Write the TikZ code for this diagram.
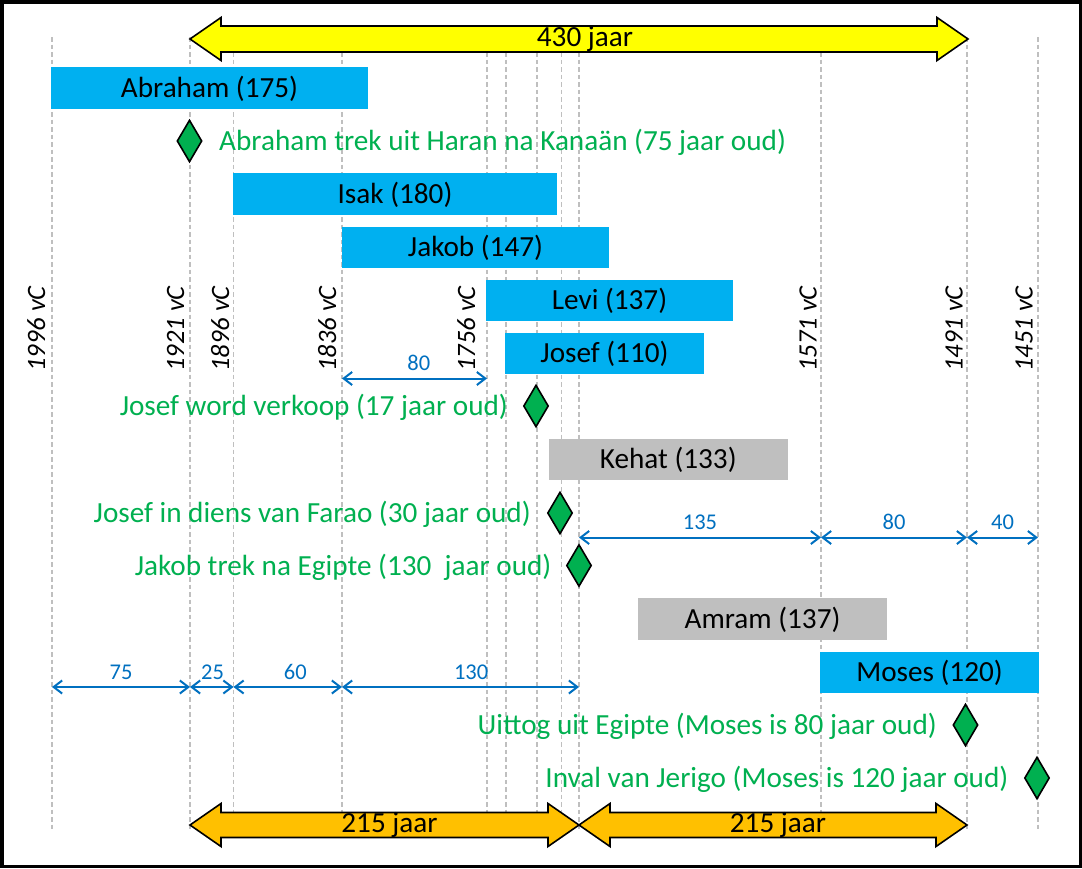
\documentclass[tikz,border=0pt]{standalone}
\usepackage{fontspec}
\setmainfont{Carlito}
\usetikzlibrary{arrows.meta,shapes.geometric}
\definecolor{barblue}{HTML}{00B0F0}
\definecolor{bargrey}{HTML}{BFBFBF}
\definecolor{evgreen}{HTML}{00B050}
\definecolor{dimblue}{HTML}{0070C0}
\definecolor{lineg}{HTML}{BFBFBF}
\definecolor{arryellow}{HTML}{FFFF00}
\definecolor{arrorange}{HTML}{FFC000}
\newcommand\fbig{\fontsize{29.2}{32}\selectfont}
\newcommand\fyr{\fontsize{26.5}{29}\selectfont\itshape}
\newcommand\fdm{\fontsize{22.5}{25}\selectfont}
\tikzset{
  vline/.style={draw=lineg, line width=1.3pt, dash pattern=on 4.5pt off 3pt},
  bar/.style={rectangle, fill=barblue, inner sep=0pt, minimum height=41.5pt, text height=18.5pt, text depth=0pt, font=\fbig, text=black},
  greybar/.style={bar, fill=bargrey},
  evt/.style={diamond, draw=black, fill=evgreen, line width=1.6pt, inner sep=0pt, minimum width=25pt, minimum height=42pt},
  evtlbl/.style={inner sep=0pt, font=\fbig, text=evgreen},
  yearlbl/.style={rotate=90, inner sep=0pt, font=\fyr, anchor=base east},
  dimarr/.style={draw=dimblue, line width=2pt, {Straight Barb[length=8.5pt,width=13pt]}-{Straight Barb[length=8.5pt,width=13pt]}},
  dimlbl/.style={above=6.5pt, inner sep=0pt, font=\fdm, text=dimblue},
  bigarrow/.style={draw=black, line width=1.6pt, line join=miter},
  arrlbl/.style={inner sep=0pt, font=\fbig, text=black}
}
\begin{document}
\begin{tikzpicture}[x=1pt, y=-1pt]
\useasboundingbox (0,0) rectangle (1082,868);
\fill[white] (0,0) rectangle (1082,868);
\draw[line width=3.5pt] (1.75,1.75) rectangle (1080.25,866.25);

% vertical dashed year lines
\foreach \n/\x in {a/52, b/190, c/233.5, d/342, e/487, f/506, g/537, h/561.5, i/579, j/821, k/967, l/1038} {
  \coordinate (top\n) at (\x,37);
  \coordinate (bot\n) at (\x,830);
  \draw[vline] (top\n) -- (bot\n);
}

% year labels
\node[yearlbl] (y1996) at (45,286) {1996 vC};
\node[yearlbl] (y1921) at (184,286) {1921 vC};
\node[yearlbl] (y1896) at (229,286) {1896 vC};
\node[yearlbl] (y1836) at (336,286) {1836 vC};
\node[yearlbl] (y1756) at (475,286) {1756 vC};
\node[yearlbl] (y1571) at (816.5,286) {1571 vC};
\node[yearlbl] (y1491) at (962.5,286) {1491 vC};
\node[yearlbl] (y1451) at (1032.5,286) {1451 vC};

% big arrows
\draw[bigarrow, fill=arryellow] (190,39) -- (221,17.5) -- (221,26) -- (937,26) -- (937,17.5) -- (968,39) -- (937,60.5) -- (937,52) -- (221,52) -- (221,60.5) -- cycle;
\node[arrlbl] (a430) at (585,39) {430 jaar};
\draw[bigarrow, fill=arrorange] (190,825) -- (221,803.5) -- (221,812.5) -- (548,812.5) -- (548,803.5) -- (579,825) -- (548,846.5) -- (548,837.5) -- (221,837.5) -- (221,846.5) -- cycle;
\node[arrlbl] (a215l) at (389.5,825) {215 jaar};
\draw[bigarrow, fill=arrorange] (579,825) -- (610,803.5) -- (610,812.5) -- (936,812.5) -- (936,803.5) -- (967,825) -- (936,846.5) -- (936,837.5) -- (610,837.5) -- (610,846.5) -- cycle;
\node[arrlbl] (a215r) at (778,825) {215 jaar};

% life bars
\node[bar, minimum width=317pt] (abraham) at (209.5,87.75) {Abraham (175)};
\node[bar, minimum width=324pt] (isak) at (395,193.75) {Isak (180)};
\node[bar, minimum width=267pt] (jakob) at (475.5,247.25) {Jakob (147)};
\node[bar, minimum width=247pt] (levi) at (609.5,300.25) {Levi (137)};
\node[bar, minimum width=199pt] (josef) at (604.5,353.25) {Josef (110)};
\node[greybar, minimum width=239.5pt] (kehat) at (668.25,459.25) {Kehat (133)};
\node[greybar, minimum width=249pt] (amram) at (762.5,618.75) {Amram (137)};
\node[bar, minimum width=219pt] (moses) at (929.5,672.25) {Moses (120)};

% events
\node[evt] (e1) at (189.5,141) {};
\node[evtlbl, anchor=base west] (t1) at (219,150.5) {Abraham trek uit Haran na Kanaän (75 jaar oud)};
\node[evt] (e2) at (536,406) {};
\node[evtlbl, anchor=base east] (t2) at (508,415.5) {Josef word verkoop (17 jaar oud)};
\node[evt] (e3) at (560,513) {};
\node[evtlbl, anchor=base east] (t3) at (531,522.5) {Josef in diens van Farao (30 jaar oud)};
\node[evt] (e4) at (579,565.5) {};
\node[evtlbl, anchor=base east] (t4) at (551.5,575) {Jakob trek na Egipte (130\ \ jaar oud)};
\node[evt] (e5) at (965.5,725) {};
\node[evtlbl, anchor=base east] (t5) at (937,734.5) {Uittog uit Egipte (Moses is 80 jaar oud)};
\node[evt] (e6) at (1037,778) {};
\node[evtlbl, anchor=base east] (t6) at (1008.5,787.5) {Inval van Jerigo (Moses is 120 jaar oud)};

% dimension arrows
\coordinate (r1) at (0,378.5);
\coordinate (r2) at (0,537.5);
\coordinate (r3) at (0,687);
\draw[dimarr] (topd |- r1) -- node[dimlbl, pos=0.53] (l80a) {80} (tope |- r1);
\draw[dimarr] (topi |- r2) -- node[dimlbl, pos=0.5] (l135) {135} (topj |- r2);
\draw[dimarr] (topj |- r2) -- node[dimlbl, pos=0.5] (l80b) {80} (topk |- r2);
\draw[dimarr] (topk |- r2) -- node[dimlbl, pos=0.5] (l40) {40} (topl |- r2);
\draw[dimarr] (topa |- r3) -- node[dimlbl, pos=0.5] (l75) {75} (topb |- r3);
\draw[dimarr] (topb |- r3) -- node[dimlbl, pos=0.52] (l25) {25} (topc |- r3);
\draw[dimarr] (topc |- r3) -- node[dimlbl, pos=0.57] (l60) {60} (topd |- r3);
\draw[dimarr] (topd |- r3) -- node[dimlbl, pos=0.545] (l130) {130} (topi |- r3);
\end{tikzpicture}
\end{document}
